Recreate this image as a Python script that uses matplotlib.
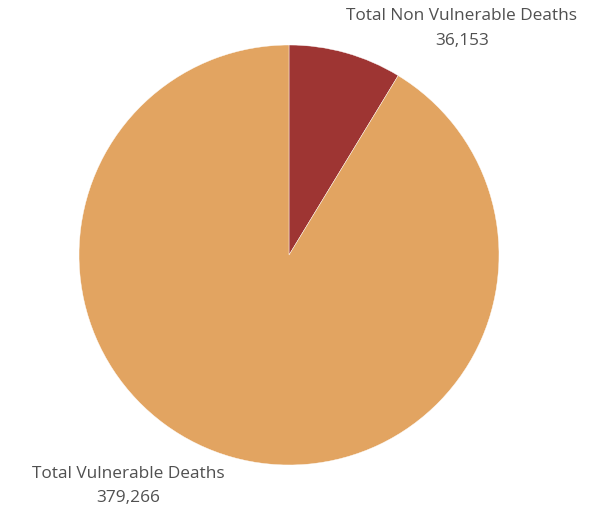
import matplotlib.pyplot as plt

labels = ["Total Non Vulnerable Deaths", "Total Vulnerable Deaths"]
values = [36153, 379266]
colors = ["#9E3533", "#E2A461"]

fig = plt.figure(figsize=(6.03, 5.12), dpi=100)
# pie centred at about (289, 255) px, radius ~210 px
ax = fig.add_axes([79 / 603, 47 / 512, 420 / 603, 420 / 512])
ax.pie(
    values,
    colors=colors,
    startangle=90,
    counterclock=False,
    radius=1.0,
    wedgeprops=dict(edgecolor="white", linewidth=0.3),
)
ax.set_xlim(-1, 1)
ax.set_ylim(-1, 1)
ax.set_aspect("equal")
ax.axis("off")

text_kw = dict(ha="center", va="center", color="#505050", family=["Open Sans", "DejaVu Sans"], fontsize=12.4)
fig.text(462 / 603, 1 - 16 / 512, labels[0], **text_kw)
fig.text(462 / 603, 1 - 41 / 512, f"{values[0]:,}", **text_kw)
fig.text(128 / 603, 1 - 474 / 512, labels[1], **text_kw)
fig.text(128 / 603, 1 - 498 / 512, f"{values[1]:,}", **text_kw)

fig.savefig("out.png", dpi=100)
